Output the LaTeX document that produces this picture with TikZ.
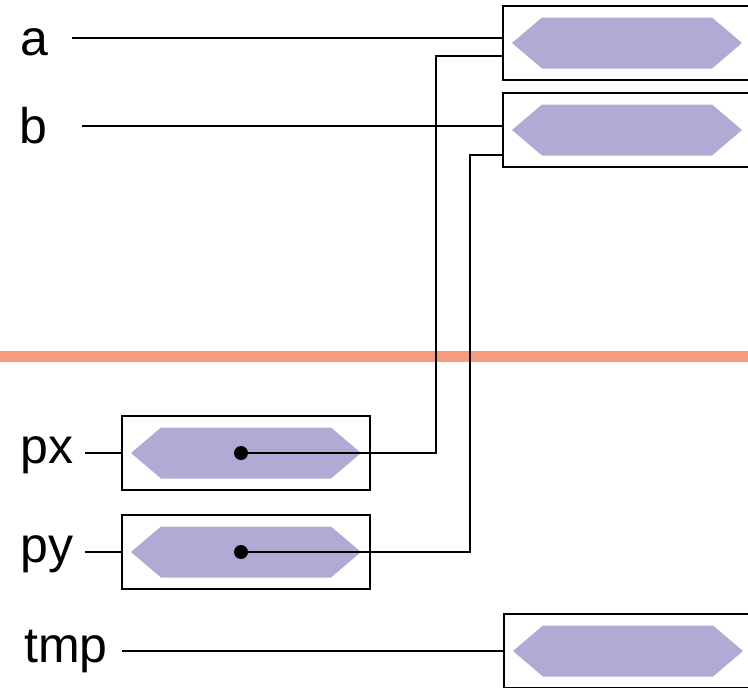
\documentclass[tikz,border=0pt]{standalone}
\usepackage{fontspec}
\setmainfont{Liberation Sans}
\usepackage{tikz}

\definecolor{barcol}{RGB}{176,170,212}
\definecolor{sepcol}{RGB}{247,154,126}

\tikzset{
  regbox/.style={draw, line width=1.4pt, minimum width=248pt, minimum height=74pt, inner sep=0pt},
  lbl/.style={inner sep=0pt, font=\fontsize{50}{55}\selectfont},
  wire/.style={line width=1.4pt},
  dot/.style={circle, fill, inner sep=0pt, minimum size=14pt},
}

% purple bar inside a register box
\newcommand{\hexbar}[1]{%
  \fill[barcol, shift={(#1.center)}] (-115,0) -- (-85,25.5) -- (85,25.5) -- (115,0) -- (85,-25.5) -- (-85,-25.5) -- cycle;}

\begin{document}
\begin{tikzpicture}[x=1pt, y=-1pt]
            \useasboundingbox (0,0) rectangle (748,688);

            \draw[sepcol, line width=11pt] (0,356.5) -- (748,356.5);

            \node[regbox] (ra) at (627,43) {};
            \node[regbox] (rb) at (627,130) {};
            \node[regbox] (rpx) at (246,453) {};
            \node[regbox] (rpy) at (246,552) {};
            \node[regbox] (rtmp) at (628,651) {};
            \hexbar{ra}
            \hexbar{rb}
            \hexbar{rpx}
            \hexbar{rpy}
            \hexbar{rtmp}

            \node[lbl, anchor=base west] (la) at (20,55) {a};
            \node[lbl, anchor=base west] (lb) at (19,143) {b};
            \node[lbl, anchor=base west] (lpx) at (20,463) {px};
            \node[lbl, anchor=base west] (lpy) at (20,562) {py};
            \node[lbl, anchor=base west] (ltmp) at (24,662) {tmp};

            \coordinate (ain) at (72,38);
            \coordinate (bin) at (82,126);
            \coordinate (pxin) at (85,453);
            \coordinate (pyin) at (85,552);
            \coordinate (tmpin) at (122,651);
            \draw[wire] (ain) -- (ain -| ra.west);
            \draw[wire] (bin) -- (bin -| rb.west);
            \draw[wire] (pxin) -- (rpx.west);
            \draw[wire] (pyin) -- (rpy.west);
            \draw[wire] (tmpin) -- (rtmp.west);

            \node[dot] (dpx) at (241,453) {};
            \node[dot] (dpy) at (241,552) {};
            \coordinate (pxbend) at (436,56);
            \coordinate (pybend) at (470,155);
            \draw[wire] (dpx.center) -| (pxbend) -- (pxbend -| ra.west);
            \draw[wire] (dpy.center) -| (pybend) -- (pybend -| rb.west);
        \end{tikzpicture}
\end{document}
